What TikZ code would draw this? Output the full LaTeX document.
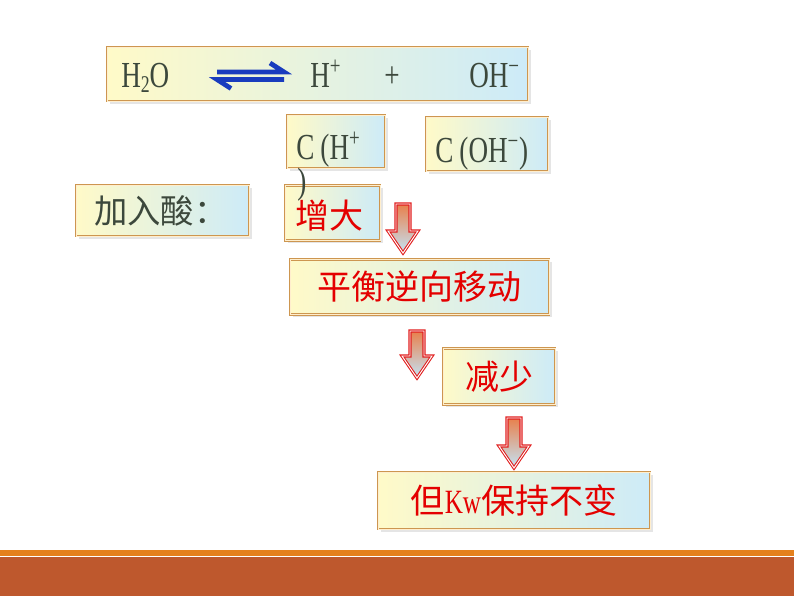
\documentclass[tikz,border=0pt]{standalone}
\usepackage{fontspec}
\setmainfont{Liberation Serif}
\newfontfamily\latin[FakeStretch=0.74]{Liberation Serif}
\newfontfamily\cjk{Noto Sans CJK SC}
\usetikzlibrary{shadows}
\definecolor{boxY}{RGB}{255,250,200}
\definecolor{boxB}{RGB}{205,235,248}
\definecolor{boxEdge}{RGB}{205,150,80}
\definecolor{boxGap}{RGB}{255,238,205}
\definecolor{darktxt}{RGB}{60,72,60}
\definecolor{redtxt}{RGB}{228,0,0}
\definecolor{eqblue}{RGB}{25,60,190}
\definecolor{arrTop}{RGB}{232,128,76}
\definecolor{arrMid}{RGB}{240,188,168}
\definecolor{arrBot}{RGB}{196,228,246}
\definecolor{arrEdge}{RGB}{225,30,30}
\definecolor{bandOr}{RGB}{228,128,28}
\definecolor{bandRust}{RGB}{190,88,45}
\tikzset{
  panel/.style={draw=boxEdge, line width=0.7pt, double=boxGap, double distance=0.7pt,
    left color=boxY, right color=boxB, inner sep=0pt,
    drop shadow={shadow xshift=2pt, shadow yshift=-2pt, fill=black!20, opacity=0.5}},
  darkt/.style={text=darktxt, inner sep=0pt, font=\latin\fontsize{27.5}{29}\selectfont},
  cjkdark/.style={text=darktxt, inner sep=0pt, font=\cjk\fontsize{25}{27}\selectfont},
  cjkred/.style={text=redtxt, inner sep=0pt, font=\cjk\fontsize{25.5}{28}\selectfont},
  arrowfill/.style={top color=arrTop, middle color=arrMid, bottom color=arrBot, draw=arrEdge, line width=0.8pt,
    double=white, double distance=0.7pt, line join=miter},
  eqarr/.style={draw=eqblue, line width=3.6pt},
  blockarrow/.pic={
    \path[arrowfill] (-7,0) -- (7,0) -- (7,#1) -- (15,#1) -- (0,#1+22) -- (-15,#1) -- (-7,#1) -- cycle;
  }
}
\begin{document}
\begin{tikzpicture}[x=0.75pt, y=-0.75pt]
\useasboundingbox (0,0) rectangle (794,596);
\fill[white] (0,0) rectangle (794,596);
% bottom band
\fill[bandOr] (0,550) rectangle (794,556);
\fill[bandRust] (0,557) rectangle (794,596);
% boxes
\node[panel, minimum width=421*0.75pt, minimum height=54*0.75pt] (eq) at (317.5,74) {};
\node[panel, minimum width=98*0.75pt, minimum height=53*0.75pt] (ch) at (336,141.5) {};
\node[panel, minimum width=122*0.75pt, minimum height=54*0.75pt] (coh) at (487,144) {};
\node[panel, minimum width=173*0.75pt, minimum height=51*0.75pt] (acid) at (162.5,210.5) {};
\node[panel, minimum width=95*0.75pt, minimum height=55*0.75pt] (inc) at (332.5,213) {};
\node[panel, minimum width=259*0.75pt, minimum height=55*0.75pt] (shift) at (419.5,287) {};
\node[panel, minimum width=112*0.75pt, minimum height=56*0.75pt] (dec) at (499,376.5) {};
\node[panel, minimum width=272*0.75pt, minimum height=57*0.75pt] (kw) at (514,500.5) {};
% equation
\node[darkt, anchor=base west] (h2o) at (121,87) {H\raisebox{-0.35ex}{\fontsize{18}{19}\selectfont 2}O};
\coordinate (eqa) at (217,72);
\coordinate (eqb) at (284,72);
\draw[eqarr] (eqa) -- (eqb) -- ++(-14,-9);
\draw[eqarr] ([yshift=-7.5*0.75pt]eqa) -- ([yshift=-7.5*0.75pt]eqb);
\draw[eqarr] ([yshift=-7.5*0.75pt]eqb) -- ([yshift=-7.5*0.75pt]eqa) -- ++(14,9);
\node[darkt, anchor=base west] (hp) at (310,87) {H\textsuperscript{+}};
\node[darkt, anchor=base] (plus) at (392,87) {+};
\node[darkt, anchor=base west] (ohm) at (469,87) {OH\textsuperscript{−}};
% concentrations
\node[darkt, anchor=base west] (chtxt) at (296,159) {C\,(H\textsuperscript{+}};
\node[darkt] (paren) at (302,185) {)};
\node[darkt, anchor=base west] (cohtxt) at (435,162) {C\,(OH\textsuperscript{−})};
% chinese texts
\node[cjkdark, anchor=west] (acidtxt) at (94,211) {加入酸：};
\node[cjkred, anchor=west] (inctxt) at (295,216) {增大};
\node[cjkred] (shifttxt) at (shift) {平衡逆向移动};
\node[cjkred] (dectxt) at (dec) {减少};
\node[cjkred] (kwtxt) at (kw) {但{\latin Kw}保持不变};
% block arrows
\pic at (403,204) {blockarrow=27};
\pic at (417,331) {blockarrow=25};
\pic at (514,418) {blockarrow=28};
\end{tikzpicture}
\end{document}
